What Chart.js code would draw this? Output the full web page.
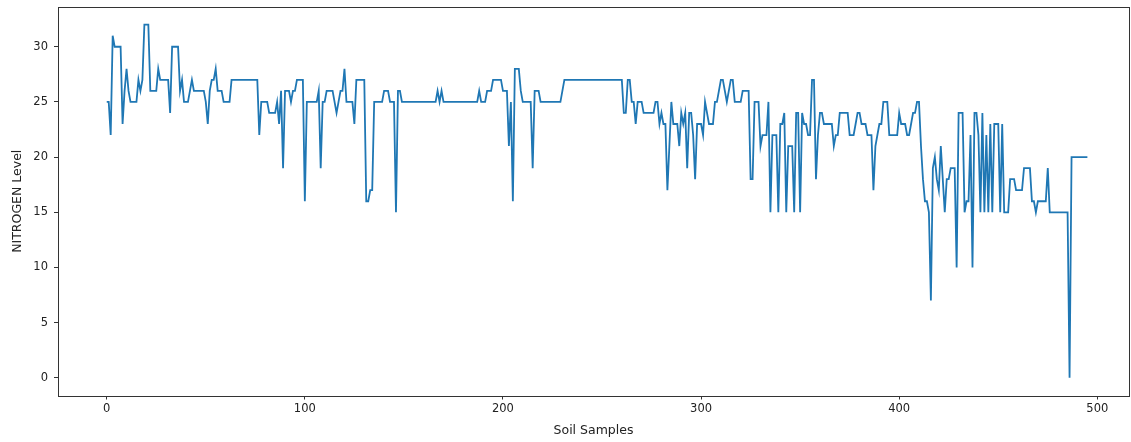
<!DOCTYPE html>
<html>
<head>
<meta charset="utf-8">
<title>Nitrogen level per soil sample</title>
<script src="https://cdn.jsdelivr.net/npm/chart.js@4/dist/chart.umd.min.js"></script>
<style>
  html, body { margin: 0; padding: 0; background: #fff; overflow: hidden; }
  #chart { display: block; }
</style>
</head>
<body>
<canvas id="chart" width="1131" height="442"></canvas>
<script>
// nitrogen reading for each soil sample, index = sample number
const nitrogen = [
  25, 25, 22, 31, 30, 30, 30, 30, 23, 26,
  28, 26, 25, 25, 25, 25, 27, 26, 27, 32,
  32, 32, 26, 26, 26, 26, 28, 27, 27, 27,
  27, 27, 24, 30, 30, 30, 30, 26, 27, 25,
  25, 25, 26, 27, 26, 26, 26, 26, 26, 26,
  25, 23, 26, 27, 27, 28, 26, 26, 26, 25,
  25, 25, 25, 27, 27, 27, 27, 27, 27, 27,
  27, 27, 27, 27, 27, 27, 27, 22, 25, 25,
  25, 25, 24, 24, 24, 24, 25, 23, 26, 19,
  26, 26, 26, 25, 26, 26, 27, 27, 27, 27,
  16, 25, 25, 25, 25, 25, 25, 26, 19, 25,
  25, 26, 26, 26, 26, 25, 24, 25, 26, 26,
  28, 25, 25, 25, 25, 23, 27, 27, 27, 27,
  27, 16, 16, 17, 17, 25, 25, 25, 25, 25,
  26, 26, 26, 25, 25, 25, 15, 26, 26, 25,
  25, 25, 25, 25, 25, 25, 25, 25, 25, 25,
  25, 25, 25, 25, 25, 25, 25, 26, 25, 26,
  25, 25, 25, 25, 25, 25, 25, 25, 25, 25,
  25, 25, 25, 25, 25, 25, 25, 25, 26, 25,
  25, 25, 26, 26, 26, 27, 27, 27, 27, 27,
  26, 26, 26, 21, 25, 16, 28, 28, 28, 26,
  25, 25, 25, 25, 25, 19, 26, 26, 26, 25,
  25, 25, 25, 25, 25, 25, 25, 25, 25, 25,
  26, 27, 27, 27, 27, 27, 27, 27, 27, 27,
  27, 27, 27, 27, 27, 27, 27, 27, 27, 27,
  27, 27, 27, 27, 27, 27, 27, 27, 27, 27,
  27, 24, 24, 27, 27, 25, 25, 23, 25, 25,
  25, 24, 24, 24, 24, 24, 24, 25, 25, 23,
  24, 23, 23, 17, 21, 25, 23, 23, 23, 21,
  24, 23, 24, 19, 24, 24, 22, 18, 23, 23,
  23, 22, 25, 24, 23, 23, 23, 25, 25, 26,
  27, 27, 26, 25, 26, 27, 27, 25, 25, 25,
  25, 26, 26, 26, 26, 18, 18, 25, 25, 25,
  21, 22, 22, 22, 25, 15, 22, 22, 22, 15,
  23, 23, 24, 15, 21, 21, 21, 15, 24, 24,
  15, 24, 23, 23, 22, 22, 27, 27, 18, 22,
  24, 24, 23, 23, 23, 23, 23, 21, 22, 22,
  24, 24, 24, 24, 24, 22, 22, 22, 23, 24,
  24, 23, 23, 23, 22, 22, 22, 17, 21, 22,
  23, 23, 25, 25, 25, 22, 22, 22, 22, 22,
  24, 23, 23, 23, 22, 22, 23, 24, 24, 25,
  25, 21, 18, 16, 16, 15, 7, 19, 20, 18,
  17, 21, 18, 15, 18, 18, 19, 19, 19, 10,
  24, 24, 24, 15, 16, 16, 22, 10, 24, 24,
  22, 15, 24, 15, 22, 15, 23, 15, 23, 23,
  23, 15, 23, 15, 15, 15, 18, 18, 18, 17,
  17, 17, 17, 19, 19, 19, 19, 16, 16, 15,
  16, 16, 16, 16, 16, 19, 15, 15, 15, 15,
  15, 15, 15, 15, 15, 15, 0, 20, 20, 20,
  20, 20, 20, 20, 20, 20
];

const xTicks = [0, 100, 200, 300, 400, 500];
const yTicks = [0, 5, 10, 15, 20, 25, 30];

const points = nitrogen.map((v, i) => ({ x: i, y: v }));

// matplotlib-like box around the plot area
const frame = {
  id: 'frame',
  afterDraw(chart) {
    const { ctx, chartArea: a } = chart;
    ctx.save();
    ctx.strokeStyle = '#333';
    ctx.lineWidth = 1;
    ctx.strokeRect(Math.round(a.left) + 0.5, Math.round(a.top) + 0.5,
      Math.round(a.right - a.left), Math.round(a.bottom - a.top));
    ctx.restore();
  },
};

const font = { family: '"DejaVu Sans", sans-serif', size: 11.5 };
const titleFont = { family: '"DejaVu Sans", sans-serif', size: 12.5 };

new Chart(document.getElementById('chart'), {
  type: 'line',
  data: {
    datasets: [{
      data: points,
      borderColor: '#1f77b4',
      borderWidth: 1.8,
      pointRadius: 0,
      tension: 0,
      fill: false,
    }],
  },
  options: {
    responsive: false,
    devicePixelRatio: 1,
    animation: false,
    events: [],
    layout: { padding: { top: 7, right: 2, left: 0, bottom: 0 } },
    plugins: { legend: { display: false }, tooltip: { enabled: false } },
    scales: {
      x: {
        type: 'linear',
        min: -24.6,
        max: 516,
        afterFit: (s) => { s.height = 46.5; },
        afterBuildTicks: (s) => { s.ticks = xTicks.map((v) => ({ value: v })); },
        border: { display: false },
        grid: { drawOnChartArea: false, drawTicks: true, tickLength: 4, color: '#333' },
        ticks: { color: '#222', font, padding: 3, maxRotation: 0 },
        title: {
          display: true, text: 'Soil Samples', color: '#222',
          font: titleFont,
          padding: { top: 0, bottom: 4 },
        },
      },
      y: {
        min: -1.6,
        max: 33.6,
        afterFit: (s) => {
          s.width = 58;
          s.paddingTop = 0;
          s.paddingBottom = 0;
        },
        afterBuildTicks: (s) => { s.ticks = yTicks.map((v) => ({ value: v })); },
        border: { display: false },
        grid: { drawOnChartArea: false, drawTicks: true, tickLength: 4, color: '#333' },
        ticks: { color: '#222', font, padding: 6 },
        title: {
          display: true, text: 'NITROGEN Level', color: '#222',
          font: titleFont,
          padding: { top: 10, bottom: 0 },
        },
      },
    },
  },
  plugins: [frame],
});
</script>
</body>
</html>
